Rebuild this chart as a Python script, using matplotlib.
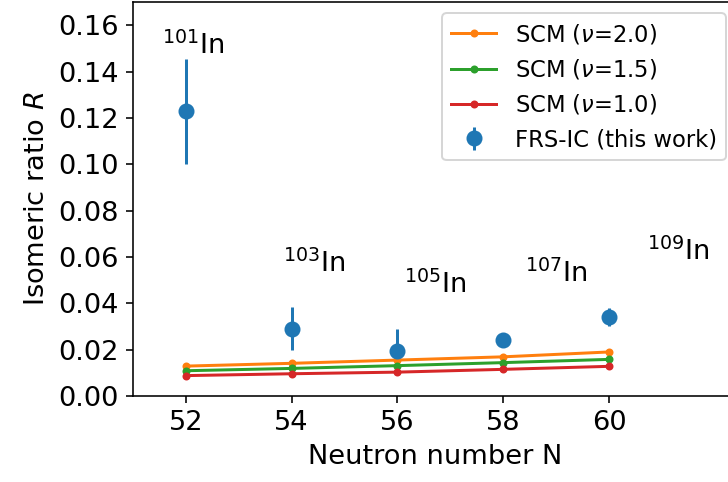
import matplotlib
matplotlib.use("Agg")
import matplotlib.pyplot as plt
import numpy as np

# Neutron numbers of the indium isotopes
neutron_number = [52, 54, 56, 58, 60]
isotope_labels = ["$^{101}$In", "$^{103}$In", "$^{105}$In", "$^{107}$In", "$^{109}$In"]

# Measured isomeric ratios and (lower, upper) uncertainties (FRS-IC)
ratio_measured = [0.1228, 0.0290, 0.0196, 0.0242, 0.0340]
ratio_err_low = [0.0228, 0.0093, 0.0020, 0.0020, 0.0040]
ratio_err_high = [0.0228, 0.0093, 0.0093, 0.0020, 0.0040]

# Statistical compound model predictions
scm_nu20 = [0.0129, 0.0141, 0.0155, 0.0169, 0.0190]
scm_nu15 = [0.0109, 0.0119, 0.0131, 0.0144, 0.0158]
scm_nu10 = [0.0088, 0.0096, 0.0103, 0.0115, 0.0128]

# Where the isotope names are written (data coordinates)
label_x = [52.14, 54.43, 56.72, 59.01, 61.31]
label_y = [0.1477, 0.0536, 0.0443, 0.0493, 0.0586]

DPI = 144
FS = 13.6
fig = plt.figure(figsize=(728 / DPI, 482 / DPI), dpi=DPI)
ax = fig.add_axes([133 / 728, (482 - 396) / 482, (737 - 133) / 728, (396 - 2) / 482])

ax.plot(neutron_number, scm_nu20, marker=".", color="tab:orange", label=r"SCM ($\nu$=2.0)")
ax.plot(neutron_number, scm_nu15, marker=".", color="tab:green", label=r"SCM ($\nu$=1.5)")
ax.plot(neutron_number, scm_nu10, marker=".", color="tab:red", label=r"SCM ($\nu$=1.0)")
ax.errorbar(neutron_number, ratio_measured, yerr=[ratio_err_low, ratio_err_high],
            fmt="o", markersize=7, color="tab:blue", label="FRS-IC (this work)")

for x, y, txt in zip(label_x, label_y, isotope_labels):
    ax.text(x, y, txt, ha="center", va="baseline", fontsize=FS)

ax.set_xlim(51, 62.42)
ax.set_ylim(0, 0.17)
ax.set_xticks([52, 54, 56, 58, 60])
ax.set_yticks(np.arange(0, 0.161, 0.02))
ax.tick_params(labelsize=FS)
ax.set_xlabel("Neutron number N", fontsize=FS)
ax.set_ylabel("Isomeric ratio $R$", fontsize=FS)
ax.legend(loc="upper right", fontsize=11.3)

fig.savefig("out.png", dpi=DPI)
